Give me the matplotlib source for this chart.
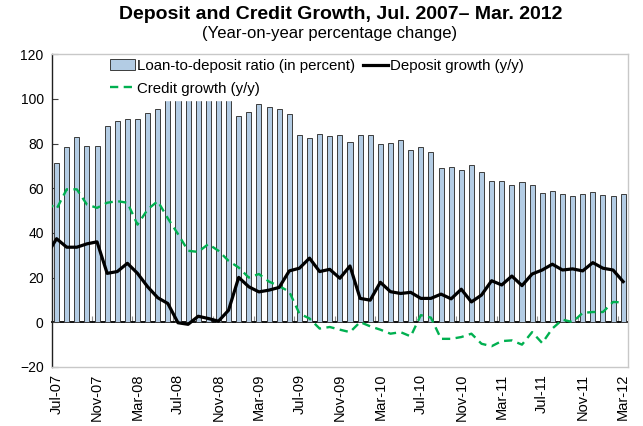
import numpy as np
import pandas as pd
import matplotlib
matplotlib.use("Agg")
import matplotlib.pyplot as plt
from matplotlib.patches import Patch
from matplotlib.lines import Line2D

plt.rcParams['font.family'] = ['Liberation Sans', 'DejaVu Sans']

# monthly observations, Jul-2007 .. Mar-2012
months = pd.date_range('2007-07-01', '2012-03-01', freq='MS')
month_labels = [m.strftime('%b-%y') for m in months]

# loan-to-deposit ratio, percent (Jun-Dec 2008 run above 100)
ldr = [71.2, 78.5, 83.0, 79.0, 78.7, 88.0, 90.0, 91.0, 91.0, 93.5,
       95.5, 102.0, 104.0, 106.0, 107.0, 105.0, 103.0, 101.0, 92.3, 94.0,
       97.6, 96.4, 95.5, 93.2, 83.8, 82.6, 84.1, 83.2, 83.8, 80.6,
       83.8, 83.8, 79.6, 80.3, 81.4, 77.3, 78.4, 76.3, 69.1, 69.7,
       68.2, 70.3, 67.1, 63.4, 63.1, 61.6, 62.8, 61.3, 57.7, 58.9,
       57.2, 56.5, 57.5, 58.4, 56.8, 56.5, 57.2]

# y/y growth rates; first value is Jun-2007 (starts just left of the axis)
deposit_growth = [30.0,
                  37.4, 33.6, 33.6, 35.1, 36.0, 21.9, 22.7, 26.4, 21.9, 15.9,
                  11.0, 8.4, -0.2, -0.9, 2.7, 1.7, 0.5, 5.4, 20.1, 15.9,
                  13.6, 14.4, 15.6, 23.0, 24.2, 28.7, 22.7, 23.7, 19.7, 25.2,
                  10.7, 9.9, 17.9, 13.7, 12.9, 13.4, 10.7, 10.7, 12.6, 10.5,
                  14.8, 9.1, 12.2, 18.6, 16.7, 20.7, 16.4, 21.6, 23.4, 26.0,
                  23.4, 23.9, 23.0, 26.7, 24.2, 23.4, 18.2]
credit_growth = [53.8,
                 50.7, 59.5, 59.5, 52.7, 51.2, 53.5, 54.2, 53.5, 43.7, 50.5,
                 54.2, 46.5, 39.5, 32.0, 31.5, 35.0, 32.0, 27.5, 24.5, 20.0,
                 21.6, 18.2, 16.2, 13.7, 3.9, 1.7, -2.8, -2.1, -3.3, -4.4,
                 0.1, -1.8, -3.3, -5.1, -4.4, -6.3, 3.2, 2.1, -7.4, -7.4,
                 -6.6, -5.1, -9.6, -10.7, -8.4, -8.1, -10.0, -4.4, -9.3, -2.8,
                 1.2, 0.1, 4.2, 4.6, 4.6, 9.1, 8.9]

x = np.arange(len(months))
x_lines = np.arange(-1, len(months))

bar_color = '#b3cce4'
green = '#00b050'
dash = (0, (3.5, 2.3))

fig = plt.figure(figsize=(6.43, 4.26), dpi=100)
ax = fig.add_axes([0.0809, 0.1385, 0.8961, 0.7345])

ax.bar(x, ldr, width=0.5, color=bar_color, edgecolor='#3c3c3c', linewidth=0.7, zorder=2)
ax.plot(x_lines, credit_growth, color=green, lw=1.7, ls=dash, zorder=3)
ax.plot(x_lines, deposit_growth, color='black', lw=2.3, zorder=4)

ax.set_xlim(-0.45, 56.5)
ax.set_ylim(-20, 120)
ax.set_yticks(np.arange(-20, 121, 20))
ax.tick_params(axis='y', direction='in', length=4, color='#404040', labelsize=10, pad=6)

ax.set_xticks(x[::4])
ax.set_xticklabels(month_labels[::4], rotation=90, fontsize=10.5)
ax.tick_params(axis='x', length=0, pad=5)

for side in ('top', 'right', 'bottom'):
    ax.spines[side].set_color('#c8c8c8')
    ax.spines[side].set_linewidth(1.0)
ax.spines['left'].set_color('#202020')
ax.spines['left'].set_linewidth(1.0)

# horizontal axis line through zero with small category ticks
zero_axis = ax.secondary_xaxis(20 / 140)
zero_axis.set_xticks(np.arange(3.5, 57, 4))
zero_axis.tick_params(direction='in', length=4, color='#909090', labelbottom=False, labeltop=False)
zero_axis.spines['bottom'].set_color('black')
zero_axis.spines['bottom'].set_linewidth(1.3)

handles = [Patch(facecolor=bar_color, edgecolor='#3c3c3c', linewidth=0.7),
           Line2D([], [], color=green, lw=1.7, ls=dash),
           Line2D([], [], color='black', lw=2.3)]
labels = ['Loan-to-deposit ratio (in percent)', 'Credit growth (y/y)', 'Deposit growth (y/y)']
leg = ax.legend(handles, labels, ncol=2, loc='upper left', bbox_to_anchor=(0.092, 1.0),
                fontsize=10.8, frameon=True, fancybox=False, framealpha=1.0,
                handlelength=1.67, handletextpad=0.13, columnspacing=0.53,
                labelspacing=0.58, borderpad=0.32, borderaxespad=0.0)
leg.get_frame().set_edgecolor('white')
leg.get_frame().set_facecolor('white')
# above the bars, below the plot frame
leg.set_zorder(2.3)

fig.text(0.5295, 0.967, 'Deposit and Credit Growth, Jul. 2007\u2013 Mar. 2012',
         ha='center', va='center', fontsize=14, fontweight='bold')
fig.text(0.5124, 0.921, '(Year-on-year percentage change)',
         ha='center', va='center', fontsize=12)

fig.savefig('out.png', dpi=100)
